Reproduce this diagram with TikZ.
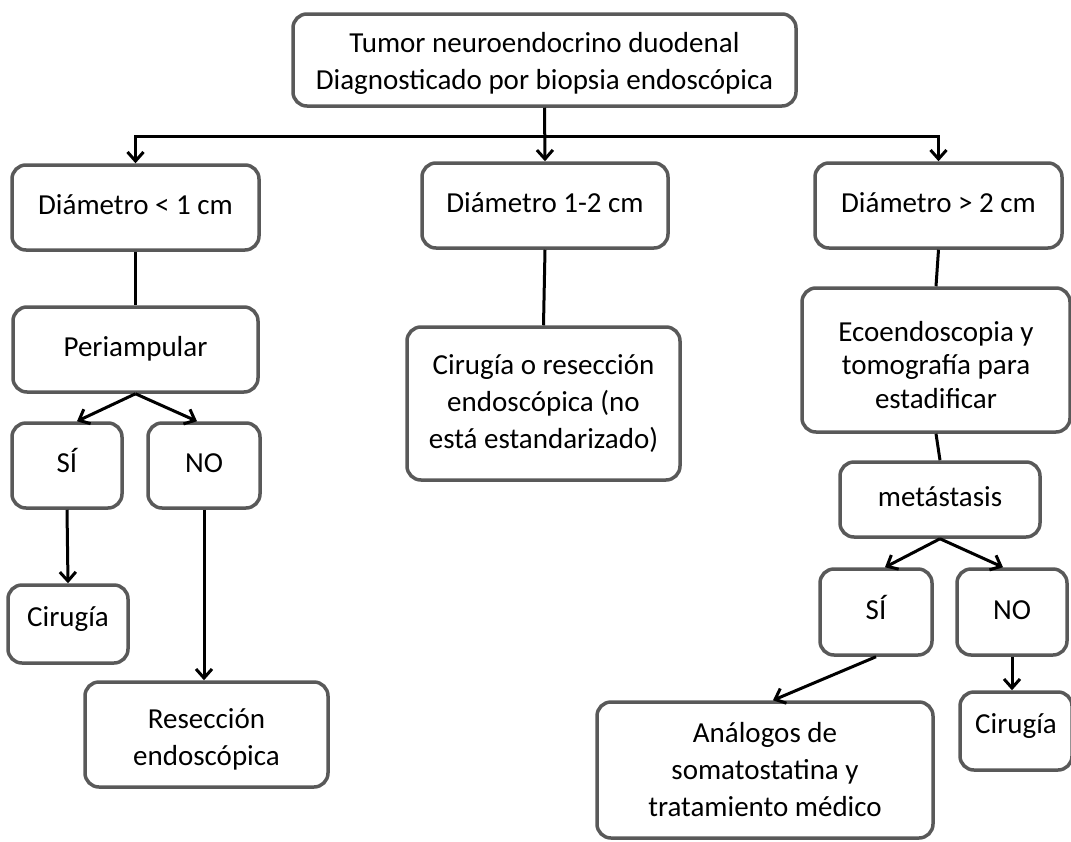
\documentclass[tikz,border=0pt]{standalone}
\usepackage{fontspec}
\setmainfont{Carlito}
\usetikzlibrary{arrows.meta,calc}
\definecolor{boxgray}{HTML}{595959}
% invisible rule that sets the height of a first text line
\newcommand\lineheight[1]{\rule{0pt}{#1}}
\begin{document}
\begin{tikzpicture}[x=1pt,y=-1pt,
  box/.style={draw=boxgray, line width=3.5pt, rounded corners=14pt, align=center,
    inner sep=0pt, font=\fontsize{29}{37}\selectfont},
  single/.style={box, text height=21pt, text depth=6.4pt},
  hightext/.style={box, text height=21pt, text depth=17pt},
  link/.style={line width=3pt, black},
  arrow/.style={link, -{Straight Barb[length=9pt,width=16pt]}}]
\useasboundingbox (0,0) rectangle (1071,841);

% boxes
\node[box, minimum width=503pt, minimum height=92pt] (top) at (544.5,60)
  {\lineheight{26pt}Tumor neuroendocrino duodenal\\Diagnosticado por biopsia endoscópica};
\node[single, minimum width=247pt, minimum height=85pt] (d1) at (135.5,207.5) {Diámetro < 1 cm};
\node[single, minimum width=246pt, minimum height=85pt] (d2) at (545,205.5) {Diámetro 1-2 cm};
\node[single, minimum width=247pt, minimum height=85pt] (d3) at (938.5,205.5) {Diámetro > 2 cm};
\node[single, minimum width=245pt, minimum height=85pt] (peri) at (135.5,349.5) {Periampular};
\node[single, minimum width=110pt, minimum height=85pt] (si1) at (67,465.5) {SÍ};
\node[single, minimum width=112pt, minimum height=85pt] (no1) at (204,465.5) {NO};
\node[hightext, minimum width=120pt, minimum height=78pt] (cir1) at (68,624) {Cirugía};
\node[box, minimum width=243pt, minimum height=105pt] (res) at (206.5,734.5)
  {\lineheight{29pt}Resección\\endoscópica};
\node[box, minimum width=273pt, minimum height=153pt] (cor) at (543.5,403.5)
  {Cirugía o resección\\endoscópica (no\\está estandarizado)};
\node[box, font=\fontsize{29}{33.5}\selectfont, minimum width=268pt, minimum height=144pt] (eco) at (936,360)
  {\lineheight{30pt}Ecoendoscopia y\\tomografía para\\estadificar};
\node[single, minimum width=200pt, minimum height=75pt] (met) at (940,499.5) {metástasis};
\node[single, minimum width=112pt, minimum height=86pt] (si2) at (876,612) {SÍ};
\node[single, minimum width=110pt, minimum height=86pt] (no2) at (1012,612) {NO};
\node[box, minimum width=336pt, minimum height=136pt] (ana) at (765,770)
  {\lineheight{19pt}Análogos de\\somatostatina y\\tratamiento médico};
\node[hightext, minimum width=112pt, minimum height=78pt] (cir2) at (1016,731) {Cirugía};

% connectors
\path (top.south) ++(0,29) coordinate (bus);
\draw[arrow] (top.south) -- (d2.north);
\draw[arrow] (bus) -| (d1.north);
\draw[arrow] (bus) -| (d3.north);

\draw[link] (d1.south) -- (peri.north);
\draw[arrow] (peri.south) -- ($(si1.north)+(10,0)$);
\draw[arrow] (peri.south) -- ($(no1.north)+(-7,0)$);
\draw[arrow] (si1.south) -- (cir1.north);
\draw[arrow] (no1.south) -- (res.north -| no1.south);

\draw[link] (d2.south) -- (cor.north);

\draw[link] (d3.south) -- (eco.north);
\draw[link] (eco.south) -- (met.north);
\draw[arrow] (met.south) -- ($(si2.north)+(9,0)$);
\draw[arrow] (met.south) -- ($(no2.north)+(-9,0)$);
\draw[arrow] (si2.south) -- ($(ana.north)+(8,0)$);
\draw[arrow] (no2.south) -- (cir2.north -| no2.south);
\end{tikzpicture}
\end{document}
